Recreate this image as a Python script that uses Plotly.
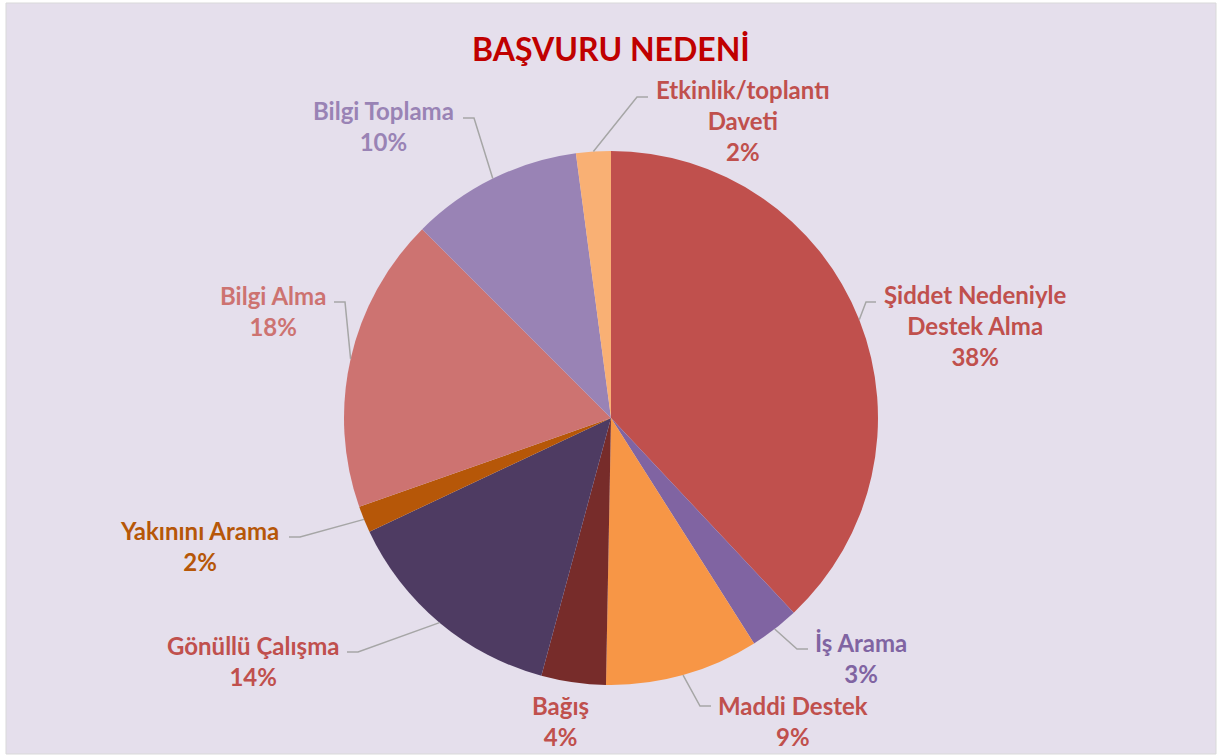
import math
import plotly.graph_objects as go

W, H = 1217, 756

categories = ["Şiddet Nedeniyle<br>Destek Alma", "İş Arama", "Maddi Destek", "Bağış",
              "Gönüllü Çalışma", "Yakınını Arama", "Bilgi Alma", "Bilgi Toplama",
              "Etkinlik/toplantı<br>Daveti"]
values = [38.0, 3.0, 9.3, 3.9, 13.8, 1.6, 17.9, 10.4, 2.1]
slice_colors = ["#C0504D", "#8064A2", "#F79646", "#772C2A", "#4E3B62",
                "#B65708", "#CD7371", "#9983B5", "#F9B074"]
text_colors = ["#C0504D", "#8064A2", "#C0504D", "#C0504D", "#C0504D",
               "#B65708", "#CD7371", "#9983B5", "#C0504D"]

# label layout (pixel positions): center of text block, leader start, elbow
label_layout = [
    dict(c=(975, 326), s=(876, 302), e=(866, 302)),
    dict(c=(861, 658), s=(808, 649), e=(797, 649)),
    dict(c=(793, 721), s=(711, 706), e=(700, 706)),
    dict(c=(560, 721), s=None, e=None),
    dict(c=(253, 661), s=(347, 652), e=(358, 652)),
    dict(c=(199, 546), s=(289, 537), e=(300, 537)),
    dict(c=(273, 311), s=(334, 302), e=(345, 302)),
    dict(c=(383, 126), s=(463, 118), e=(474, 118)),
    dict(c=(743, 121), s=(648, 97), e=(637, 97)),
]

CX, CY, R = 611, 418, 267


def px(x):
    return x / W


def py(y):
    return 1 - y / H


fig = go.Figure()
fig.add_trace(go.Pie(
    labels=categories, values=values, sort=False, direction="clockwise", rotation=0,
    marker=dict(colors=slice_colors, line=dict(width=0)),
    textinfo="none", hoverinfo="label+percent", showlegend=False,
    domain=dict(x=[px(CX - R), px(CX + R)], y=[py(CY + R), py(CY - R)]),
))

total = sum(values)
cum = 0.0
annotations = []
shapes = [dict(type="rect", xref="paper", yref="paper", x0=px(6), x1=px(1216), y0=py(754), y1=py(3),
               fillcolor="#E5DFEC", line=dict(color="#D9D9D9", width=1), layer="below")]
for cat, v, tc, lay in zip(categories, values, text_colors, label_layout):
    mid = (cum + v / 2) / total
    cum += v
    ang = 2 * math.pi * mid
    tipx = CX + R * math.sin(ang)
    tipy = CY - R * math.cos(ang)
    pct = round(v / total * 100)
    annotations.append(dict(
        x=px(lay["c"][0]), y=py(lay["c"][1]), xref="paper", yref="paper",
        text=f"<b>{cat}<br>{pct}%</b>", showarrow=False, xanchor="center", yanchor="middle",
        font=dict(family="Lato", size=24, color=tc), align="center"))
    if lay["s"] is not None:
        path = (f"M {px(lay['s'][0])},{py(lay['s'][1])} L {px(lay['e'][0])},{py(lay['e'][1])} "
                f"L {px(tipx)},{py(tipy)}")
        shapes.append(dict(type="path", xref="paper", yref="paper", path=path,
                           line=dict(color="#A6A6A6", width=1.5)))

annotations.append(dict(x=px(611), y=py(48), xref="paper", yref="paper",
                        text="<b>BAŞVURU NEDENİ</b>", showarrow=False,
                        xanchor="center", yanchor="middle",
                        font=dict(family="Lato", size=32, color="#C00000")))

fig.update_layout(width=W, height=H, margin=dict(l=0, r=0, t=0, b=0),
                  paper_bgcolor="white", annotations=annotations, shapes=shapes)
fig.write_html("out.html", config={"displayModeBar": False},
               post_script="document.body.style.margin='0';")
